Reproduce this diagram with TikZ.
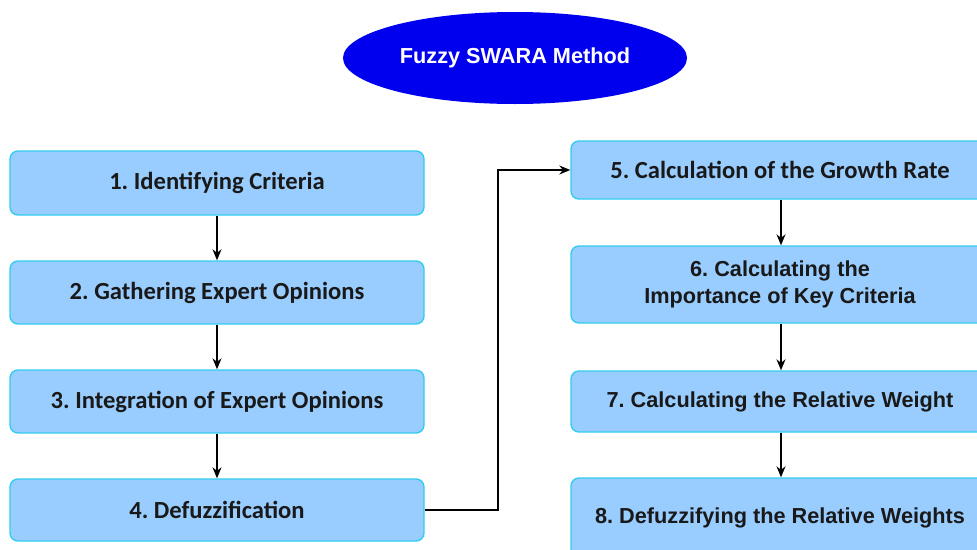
\documentclass[tikz,border=0pt]{standalone}
\usepackage{fontspec}
\setmainfont{Liberation Sans}
\newfontfamily\calfont{Carlito}
\usetikzlibrary{arrows.meta,shapes.geometric}
\definecolor{boxfill}{HTML}{99CCFF}
\definecolor{boxline}{HTML}{33CCEE}
\definecolor{ellblue}{HTML}{0000EE}
\frenchspacing
\begin{document}
\begin{tikzpicture}[x=1pt,y=-1pt,
  stepbox/.style={draw=boxline,fill=boxfill,line width=1.4pt,rounded corners=8pt,
    align=center,inner sep=0pt,text=black!90},
  cal/.style={font=\frenchspacing\calfont\bfseries\fontsize{24.6}{28}\selectfont},
  ari/.style={font=\frenchspacing\bfseries\fontsize{21.7}{27}\selectfont},
  arr/.style={line width=1.3pt,-{Stealth[length=11pt,width=9pt]}}]
\useasboundingbox (0,0) rectangle (977,549);
\clip (0,0) rectangle (977,549);
\node[ellipse,fill=ellblue,minimum width=344pt,minimum height=92pt,inner sep=0pt,
  text=white,font=\bfseries\fontsize{21.7}{26}\selectfont] (title) at (515,58) {Fuzzy SWARA Method};
\node[stepbox,cal,minimum width=414pt,minimum height=64pt] (s1) at (217,183) {1. Identifying Criteria};
\node[stepbox,cal,minimum width=414pt,minimum height=63pt] (s2) at (217,292.5) {2. Gathering Expert Opinions};
\node[stepbox,cal,minimum width=414pt,minimum height=63pt] (s3) at (217,401.5) {3. Integration of Expert Opinions};
\node[stepbox,cal,minimum width=414pt,minimum height=62pt] (s4) at (217,510) {4. Defuzzification};
\node[stepbox,cal,minimum width=418pt,minimum height=58pt] (s5) at (780,170) {5. Calculation of the Growth Rate};
\node[stepbox,ari,minimum width=418pt,minimum height=77pt] (s6) at (780,284.5) {6. Calculating the\\Importance of Key Criteria};
\node[stepbox,ari,minimum width=418pt,minimum height=61pt] (s7) at (780,401.5) {7. Calculating the Relative Weight};
\node[stepbox,ari,minimum width=418pt,minimum height=80pt] (s8) at (780,518) {8. Defuzzifying the Relative Weights};
\draw[arr] (s1) -- (s2);
\draw[arr] (s2) -- (s3);
\draw[arr] (s3) -- (s4);
\draw[arr] (s4.east) -- (498,510) |- (s5.west);
\draw[arr] (s5.south -| 781,0) -- (s6.north -| 781,0);
\draw[arr] (s6.south -| 781,0) -- (s7.north -| 781,0);
\draw[arr] (s7.south -| 781,0) -- (s8.north -| 781,0);
\end{tikzpicture}
\end{document}
